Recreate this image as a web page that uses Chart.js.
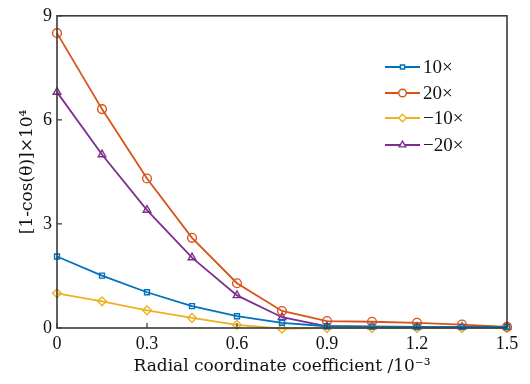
<!DOCTYPE html>
<html>
<head>
<meta charset="utf-8">
<script src="https://cdn.jsdelivr.net/npm/chart.js@4/dist/chart.umd.min.js"></script>
<style>
  html, body { margin: 0; padding: 0; background: #fff; }
  #wrap { width: 530px; height: 384px; position: relative; }
</style>
</head>
<body>
<div id="wrap"><canvas id="c"></canvas></div>
<script>
// Data
const xValues = [0, 0.15, 0.3, 0.45, 0.6, 0.75, 0.9, 1.05, 1.2, 1.35, 1.5]
const seriesNames = ['10×', '20×', '\u221210×', '\u221220×']
const pos10 = [2.06, 1.51, 1.03, 0.63, 0.34, 0.15, 0.05, 0.04, 0.03, 0.03, 0.03]
const pos20 = [8.5, 6.31, 4.31, 2.6, 1.29, 0.49, 0.2, 0.18, 0.15, 0.1, 0.03]
const neg10 = [1.0, 0.77, 0.51, 0.29, 0.09, -0.02, 0.0, 0.0, 0.0, 0.0, 0.0]
const neg20 = [6.8, 5.0, 3.4, 2.03, 0.94, 0.31, 0.05, 0.04, 0.03, 0.03, 0.03]
const xTicks = [0, 0.3, 0.6, 0.9, 1.2, 1.5]
const yTicks = [0, 3, 6, 9]

const colors = ['#0072BD', '#D95319', '#EDB120', '#7E2F8E']
const markers = ['rect', 'circle', 'rectRot', 'triangle']
const allSeries = [pos10, pos20, neg10, neg20]
const FONT = "'Liberation Serif', 'Times New Roman', serif"
const TITLE_FONT = "'DejaVu Serif', serif"

const datasets = allSeries.map((vals, i) => ({
  label: seriesNames[i],
  data: vals.map((v, j) => ({ x: xValues[j], y: v })),
  borderColor: colors[i],
  backgroundColor: 'rgba(255,255,255,0)',
  borderWidth: 1.8,
  pointStyle: markers[i],
  pointRadius: markers[i] === 'rect' ? 3.5 : 4.4,
  pointBorderWidth: 1.4,
  pointBorderColor: colors[i],
  pointBackgroundColor: 'rgba(255,255,255,0)',
  tension: 0,
  clip: false
}))

// box + inner ticks + legend
const frame = {
  id: 'frame',
  afterDraw(chart) {
    const ctx = chart.ctx
    const a = chart.chartArea
    const xs = chart.scales.x, ys = chart.scales.y
    ctx.save()
    ctx.strokeStyle = '#3a3a3a'
    ctx.lineWidth = 1.6
    ctx.strokeRect(a.left, a.top, a.right - a.left, a.bottom - a.top)
    ctx.lineWidth = 1.2
    ctx.beginPath()
    xTicks.forEach(t => {
      const px = xs.getPixelForValue(t)
      ctx.moveTo(px, a.bottom); ctx.lineTo(px, a.bottom - 5)
    })
    yTicks.forEach(t => {
      const py = ys.getPixelForValue(t)
      ctx.moveTo(a.left, py); ctx.lineTo(a.left + 5, py)
    })
    ctx.stroke()

    // legend
    const lx = 385, lw = 35, rows = [67, 93, 118, 145]
    ctx.textBaseline = 'middle'
    datasets.forEach((d, i) => {
      const y = rows[i]
      ctx.strokeStyle = colors[i]
      ctx.lineWidth = 1.8
      ctx.beginPath()
      ctx.moveTo(lx, y); ctx.lineTo(lx + lw, y)
      ctx.stroke()
      ctx.fillStyle = '#fff'
      ctx.lineWidth = 1.4
      Chart.helpers.drawPoint(ctx, {
        pointStyle: markers[i], radius: d.pointRadius - 0.6, rotation: 0, borderWidth: 1.4
      }, lx + lw / 2, y)
      ctx.fillStyle = '#111'
      ctx.font = '19px ' + FONT
      ctx.fillText(d.label, lx + lw + 3, y + 1)
    })
    ctx.restore()
  }
}

new Chart(document.getElementById('c'), {
  type: 'line',
  data: { datasets },
  options: {
    responsive: true,
    maintainAspectRatio: false,
    animation: false,
    layout: { padding: { top: 13, right: 23, left: 0, bottom: 0 } },
    plugins: { legend: { display: false }, tooltip: { enabled: false } },
    scales: {
      x: {
        type: 'linear', min: 0, max: 1.5,
        afterBuildTicks: s => { s.ticks = xTicks.map(v => ({ value: v })) },
        afterFit: s => { s.height = 56 },
        grid: { display: false, drawTicks: false },
        border: { display: false },
        ticks: { color: '#111', padding: 5, maxRotation: 0, font: { family: FONT, size: 18 } },
        title: { display: true, text: 'Radial coordinate coefficient /10\u207B\u00B3', color: '#111',
                 font: { family: TITLE_FONT, size: 17 }, padding: { top: 0, bottom: 7 } }
      },
      y: {
        type: 'linear', min: 0, max: 9,
        afterBuildTicks: s => { s.ticks = yTicks.map(v => ({ value: v })) },
        afterFit: s => { s.width = 57 },
        grid: { display: false, drawTicks: false },
        border: { display: false },
        ticks: { color: '#111', padding: 5, font: { family: FONT, size: 18 } },
        title: { display: true, text: '[1-cos(\u03B8)]\u00D710\u2074', color: '#111',
                 font: { family: TITLE_FONT, size: 17 }, padding: { top: 17, bottom: 0 } }
      }
    }
  },
  plugins: [frame]
})
</script>
</body>
</html>
